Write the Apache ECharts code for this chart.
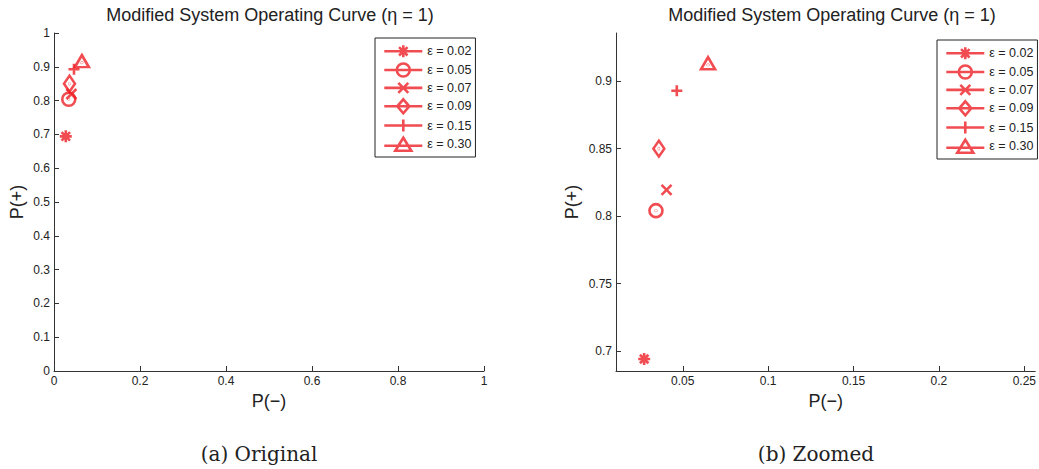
<!DOCTYPE html>
<html>
<head>
<meta charset="utf-8">
<title>Modified System Operating Curve</title>
<script src="https://cdn.jsdelivr.net/npm/echarts@6/dist/echarts.min.js"></script>
<style>
  html, body { margin: 0; padding: 0; background: #fff; }
  #chart { width: 1039px; height: 469px; }
</style>
</head>
<body>
<div id="chart"></div>
<script>
// Operating points for each threshold ε (η = 1)
const epsLabels = ['ε = 0.02', 'ε = 0.05', 'ε = 0.07', 'ε = 0.09', 'ε = 0.15', 'ε = 0.30'];
const pMinus = [0.0274, 0.0343, 0.0405, 0.0360, 0.0465, 0.0648];
const pPlus  = [0.6943, 0.8041, 0.8195, 0.8500, 0.8928, 0.9120];

// Axis ticks of the zoomed panel
const zoomXTicks = [0.05, 0.1, 0.15, 0.2, 0.25];
const zoomYTicks = [0.7, 0.75, 0.8, 0.85, 0.9];

const titleText = 'Modified System Operating Curve (η = 1)';
const captions = ['(a) Original', '(b) Zoomed'];

const RED = '#ee1f26';
const AXIS = '#333333';
const FONT = '"Liberation Sans", Arial, Helvetica, sans-serif';
const STROKE = 2.6;

// Marker outlines (stroked), one per ε
const plotSymbols = [
  { path: 'path://M6,0L6,12M0,6L12,6M1.76,1.76L10.24,10.24M1.76,10.24L10.24,1.76', size: [12, 12], offset: [0, 0] },
  { path: 'path://M0,6.5A6.5,6.5 0 1 1 13,6.5A6.5,6.5 0 1 1 0,6.5Z M6.3,6.5A0.2,0.2 0 1 1 6.7,6.5A0.2,0.2 0 1 1 6.3,6.5Z', size: [13, 13], offset: [0, 0] },
  { path: 'path://M0,0L10,10M0,10L10,0', size: [10, 10], offset: [0, 0] },
  { path: 'path://M5.5,0L11,8L5.5,16L0,8Z M5.3,8A0.2,0.2 0 1 1 5.7,8A0.2,0.2 0 1 1 5.3,8Z', size: [11, 16], offset: [0, 0] },
  { path: 'path://M5.5,0L5.5,11M0,5.5L11,5.5', size: [11, 11], offset: [0, 0] },
  { path: 'path://M7,0L14,12L0,12Z M6.8,7.6A0.2,0.2 0 1 1 7.2,7.6A0.2,0.2 0 1 1 6.8,7.6Z', size: [14, 12], offset: [0, -1.6] }
];

// Legend icons: a line sample with the marker on it
const legendIcons = [
  'path://M0,7L38,7M19,1L19,13M13,7L25,7M14.76,2.76L23.24,11.24M14.76,11.24L23.24,2.76',
  'path://M0,7L38,7M12.5,7A6.5,6.5 0 1 1 25.5,7A6.5,6.5 0 1 1 12.5,7Z',
  'path://M0,7L38,7M14,2L24,12M14,12L24,2',
  'path://M0,7L38,7M19,0L25,7L19,14L13,7Z',
  'path://M0,7L38,7M19,1L19,13',
  'path://M0,8L38,8M19,0L27,13L11,13Z'
];

const legendData = epsLabels.map((name, i) => ({ name: name, icon: legendIcons[i] }));

function makeLegend(left, top) {
  return {
    orient: 'vertical',
    left: left,
    top: top,
    data: legendData,
    selectedMode: false,
    itemWidth: 38,
    itemHeight: 14,
    itemGap: 3.6,
    padding: [6, 4, 5, 8],
    borderColor: '#222',
    borderWidth: 1,
    borderRadius: 0,
    backgroundColor: '#fff',
    itemStyle: { color: 'rgba(0,0,0,0)', borderColor: RED, borderWidth: STROKE },
    textStyle: { fontFamily: FONT, fontSize: 12.5, color: '#222', padding: [0, 0, 0, 0] }
  };
}

function baseAxis(extra) {
  return Object.assign({
    type: 'value',
    axisLine: { show: true, onZero: false, lineStyle: { color: AXIS, width: 1 } },
    axisTick: { show: true, inside: true, length: 5, lineStyle: { color: AXIS, width: 1 } },
    splitLine: { show: false },
    axisLabel: { fontFamily: FONT, fontSize: 12, color: '#222', margin: 4 },
    nameLocation: 'middle',
    nameTextStyle: { fontFamily: FONT, fontSize: 18, color: '#222' }
  }, extra);
}

const series = [];
[0, 1].forEach(function (p) {
  epsLabels.forEach(function (name, i) {
    series.push({
      type: 'scatter',
      name: name,
      xAxisIndex: p,
      yAxisIndex: p,
      data: [[pMinus[i], pPlus[i]]],
      symbol: plotSymbols[i].path,
      symbolSize: plotSymbols[i].size,
      symbolOffset: plotSymbols[i].offset,
      itemStyle: { color: 'rgba(0,0,0,0)', borderColor: RED, borderWidth: STROKE },
      emphasis: { disabled: true },
      silent: true,
      animation: false
    });
  });
});

const chart = echarts.init(document.getElementById('chart'), null, { renderer: 'svg' });

chart.setOption({
  backgroundColor: '#fff',
  animation: false,
  grid: [
    { left: 54, right: 555, top: 33, bottom: 98 },
    { left: 616, right: 2, top: 33, bottom: 98 }
  ],
  xAxis: [
    baseAxis({ gridIndex: 0, min: 0, max: 1, interval: 0.2, name: 'P(−)', nameGap: 21 }),
    baseAxis({
      gridIndex: 1, min: 0.0109, max: 0.2564, name: 'P(−)', nameGap: 21,
      axisTick: { show: true, inside: true, length: 5, lineStyle: { color: AXIS, width: 1 }, customValues: zoomXTicks },
      axisLabel: { fontFamily: FONT, fontSize: 12, color: '#222', margin: 4, customValues: zoomXTicks }
    })
  ],
  yAxis: [
    baseAxis({ gridIndex: 0, min: 0, max: 1, interval: 0.1, name: 'P(+)', nameGap: 28 }),
    baseAxis({
      gridIndex: 1, min: 0.6854, max: 0.9356, name: 'P(+)', nameGap: 35,
      axisTick: { show: true, inside: true, length: 5, lineStyle: { color: AXIS, width: 1 }, customValues: zoomYTicks },
      axisLabel: { fontFamily: FONT, fontSize: 12, color: '#222', margin: 4, customValues: zoomYTicks }
    })
  ],
  legend: [makeLegend(375, 38), makeLegend(937, 40)],
  graphic: [
    { type: 'text', x: 270, y: 15, style: { text: titleText, fontFamily: FONT, fontSize: 18, fill: '#222', align: 'center', verticalAlign: 'middle' } },
    { type: 'text', x: 832, y: 15, style: { text: titleText, fontFamily: FONT, fontSize: 18, fill: '#222', align: 'center', verticalAlign: 'middle' } },
    { type: 'text', x: 259, y: 454, style: { text: captions[0], fontFamily: '"DejaVu Serif", "Liberation Serif", serif', fontSize: 20, fill: '#222', align: 'center', verticalAlign: 'middle' } },
    { type: 'text', x: 816, y: 454, style: { text: captions[1], fontFamily: '"DejaVu Serif", "Liberation Serif", serif', fontSize: 20, fill: '#222', align: 'center', verticalAlign: 'middle' } }
  ],
  series: series
});
</script>
</body>
</html>
